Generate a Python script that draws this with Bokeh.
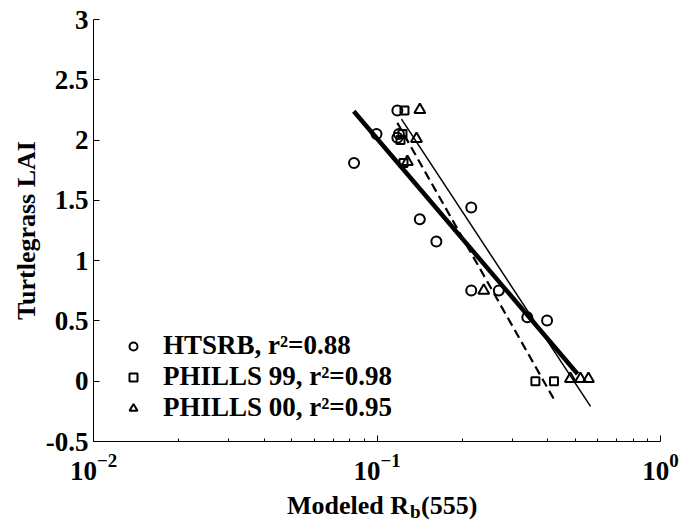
import numpy as np
from bokeh.plotting import figure
from bokeh.layouts import column
from bokeh.models import (Range1d, FixedTicker, CustomJSTickFormatter, Legend,
                          LegendItem, LogTickFormatter)
from bokeh.core.properties import value
from bokeh.embed import file_html
from bokeh.resources import INLINE

# ---- data ----
htsrb_x = [0.083, 0.0996, 0.118, 0.118, 0.1195, 0.1416, 0.162, 0.215, 0.215, 0.269, 0.339, 0.398]
htsrb_y = [1.81, 2.05, 2.245, 2.02, 2.05, 1.343, 1.158, 1.44, 0.752, 0.752, 0.53, 0.503]

phills99_x = [0.125, 0.121, 0.123, 0.124, 0.362, 0.421]
phills99_y = [2.245, 2.0, 2.05, 1.81, 0.0, 0.0]

phills00_x = [0.1416, 0.1378, 0.128, 0.238, 0.481, 0.522, 0.557]
phills00_y = [2.25, 2.01, 1.82, 0.752, 0.02, 0.02, 0.02]

# regression lines: y = intercept + slope * log10(x)
fit_slope = [-2.76, -3.573, -4.151]
fit_intercept = [-0.747, -1.091, -1.710]
fit_xmin = [0.0828, 0.122, 0.118]
fit_xmax = [0.51, 0.5665, 0.4195]
fit_width = [4.5, 1.5, 2.2]
fit_dash = ["solid", "solid", "9 5"]

y_ticks = [-0.5, 0, 0.5, 1, 1.5, 2, 2.5, 3]
x_ticks = [0.01, 0.1, 1.0]
x_minor = [m * d for d in (0.01, 0.1) for m in range(2, 10)]
legend_labels = ["HTSRB, r\u00b2=0.88", "PHILLS 99, r\u00b2=0.98", "PHILLS 00, r\u00b2=0.95"]
y_title = "Turtlegrass LAI"
x_title_parts = ["Modeled R", "b", "(555)"]

FONT = "Liberation Serif"
FS = "26px"

p = figure(x_axis_type="log", x_range=Range1d(0.01, 1), y_range=Range1d(-0.5, 3),
           width=681, height=491,
           min_border_left=93, min_border_right=21, min_border_top=19, min_border_bottom=50,
           output_backend="svg", toolbar_location=None)
p.grid.visible = False
p.outline_line_color = None
p.background_fill_color = "white"
p.border_fill_color = "white"

for ax in (p.xaxis[0], p.yaxis[0]):
    ax.axis_line_color = "black"
    ax.axis_line_width = 1
    ax.major_tick_in = 6
    ax.major_tick_out = 0
    ax.minor_tick_in = 3
    ax.minor_tick_out = 0
    ax.major_tick_line_color = "black"
    ax.minor_tick_line_color = "black"
    ax.major_label_text_font = FONT
    ax.major_label_text_font_style = "bold"
    ax.major_label_text_font_size = "27px"
    ax.major_label_text_color = "black"

p.yaxis.ticker = FixedTicker(ticks=y_ticks)
p.yaxis.formatter = CustomJSTickFormatter(code="return tick.toString();")
p.yaxis.minor_tick_line_color = None
p.yaxis.major_label_standoff = 5
p.yaxis.axis_label = y_title
p.yaxis.axis_label_text_font = FONT
p.yaxis.axis_label_text_font_style = "bold"
p.yaxis.axis_label_text_font_size = FS
p.yaxis.axis_label_text_color = "#000000"
p.yaxis.axis_label_standoff = 2

p.xaxis.ticker = FixedTicker(ticks=x_ticks, minor_ticks=x_minor)
p.xaxis.formatter = LogTickFormatter()
p.xaxis.major_label_standoff = 12

# regression lines
for s, a, x0, x1, w, d in zip(fit_slope, fit_intercept, fit_xmin, fit_xmax, fit_width, fit_dash):
    xs = np.array([x0, x1])
    ys = a + s * np.log10(xs)
    p.line(xs, ys, line_color="black", line_width=w, line_dash=d)

r1 = p.scatter(htsrb_x, htsrb_y, marker="circle", size=10, fill_color=None,
               line_color="black", line_width=2)
r2 = p.scatter(phills99_x, phills99_y, marker="square", size=8, fill_color=None,
               line_color="black", line_width=2)
r3 = p.scatter(phills00_x, phills00_y, marker="triangle", size=11, fill_color=None,
               line_color="black", line_width=2)

legend = Legend(items=[LegendItem(label=legend_labels[0], renderers=[r1]),
                       LegendItem(label=legend_labels[1], renderers=[r2]),
                       LegendItem(label=legend_labels[2], renderers=[r3])],
                location=(30, 18), orientation="vertical",
                background_fill_alpha=0, border_line_color=None,
                label_text_font=FONT, label_text_font_style="bold",
                label_text_color="black",
                label_text_font_size="27px", glyph_width=20, glyph_height=30,
                label_height=30, spacing=0, padding=10, label_standoff=20, margin=0)
p.add_layout(legend)

# second strip holding the x-axis title (with subscript b), sharing the x scale
t = figure(x_axis_type="log", x_range=p.x_range, y_range=Range1d(0, 30),
           width=681, height=30, min_border_left=93, min_border_right=21,
           min_border_top=0, min_border_bottom=0, x_axis_location=None,
           y_axis_location=None, output_backend="svg", toolbar_location=None)
t.grid.visible = False
t.outline_line_color = None
t.background_fill_color = "white"
t.border_fill_color = "white"
anchor = [x_ticks[1]]
tkw = dict(text_font=value(FONT), text_font_style="bold", text_color="black",
           text_baseline="alphabetic")
t.text(x=anchor, y=[16], text=[x_title_parts[0]], x_offset=32, text_align="right",
       text_font_size=FS, **tkw)
t.text(x=anchor, y=[10], text=[x_title_parts[1]], x_offset=33, text_align="left",
       text_font_size="19px", **tkw)
t.text(x=anchor, y=[16], text=[x_title_parts[2]], x_offset=44, text_align="left",
       text_font_size=FS, **tkw)

layout = column(p, t, spacing=0)
open("out.html", "w").write(file_html(layout, INLINE))
